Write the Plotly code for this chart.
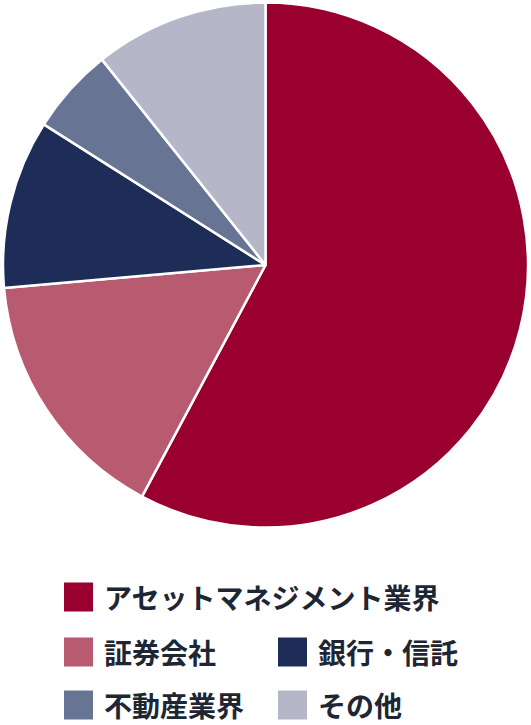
import plotly.graph_objects as go

# slice data (share %, clockwise from 12 o'clock)
labels = ['アセットマネジメント業界', '証券会社', '銀行・信託', '不動産業界', 'その他']
values = [57.8, 15.8, 10.4, 5.3, 10.7]
colors = ['#990030', '#b95b70', '#1e2d57', '#677494', '#b5b6c7']

W, H = 531, 725

fig = go.Figure(go.Pie(
    labels=labels,
    values=values,
    marker=dict(colors=colors, line=dict(color='white', width=2.5)),
    sort=False,
    direction='clockwise',
    rotation=0,
    textinfo='none',
    hoverinfo='label+percent',
    showlegend=False,
    domain=dict(x=[3 / W, 528 / W], y=[1 - 528 / H, 1 - 2 / H]),
))

# legend drawn by hand: (column x of square, row y centre) in pixels
legend_pos = [(64, 597), (64, 652), (278, 652), (64, 705), (278, 705)]
sq = 29
for (px, py), lab, col in zip(legend_pos, labels, colors):
    fig.add_shape(
        type='rect', xref='paper', yref='paper',
        x0=px / W, x1=(px + sq) / W,
        y0=1 - (py + sq / 2) / H, y1=1 - (py - sq / 2) / H,
        fillcolor=col, line=dict(width=0),
    )
    fig.add_annotation(
        x=(px + sq + 10) / W, y=1 - py / H, xref='paper', yref='paper',
        text='<b>' + lab + '</b>', showarrow=False,
        xanchor='left', yanchor='middle', borderpad=0,
        font=dict(size=28, color='#1e2633', family='Noto Sans CJK JP'),
    )

fig.update_layout(
    width=W, height=H,
    margin=dict(l=0, r=0, t=0, b=0),
    paper_bgcolor='white',
    plot_bgcolor='white',
    font=dict(family='Noto Sans CJK JP'),
)

# drop the default 8px page margin so the figure sits at the window corner
fig.write_html("out.html",
               config={'displayModeBar': False},
               post_script="document.body.style.margin='0';document.body.style.overflow='hidden';")
